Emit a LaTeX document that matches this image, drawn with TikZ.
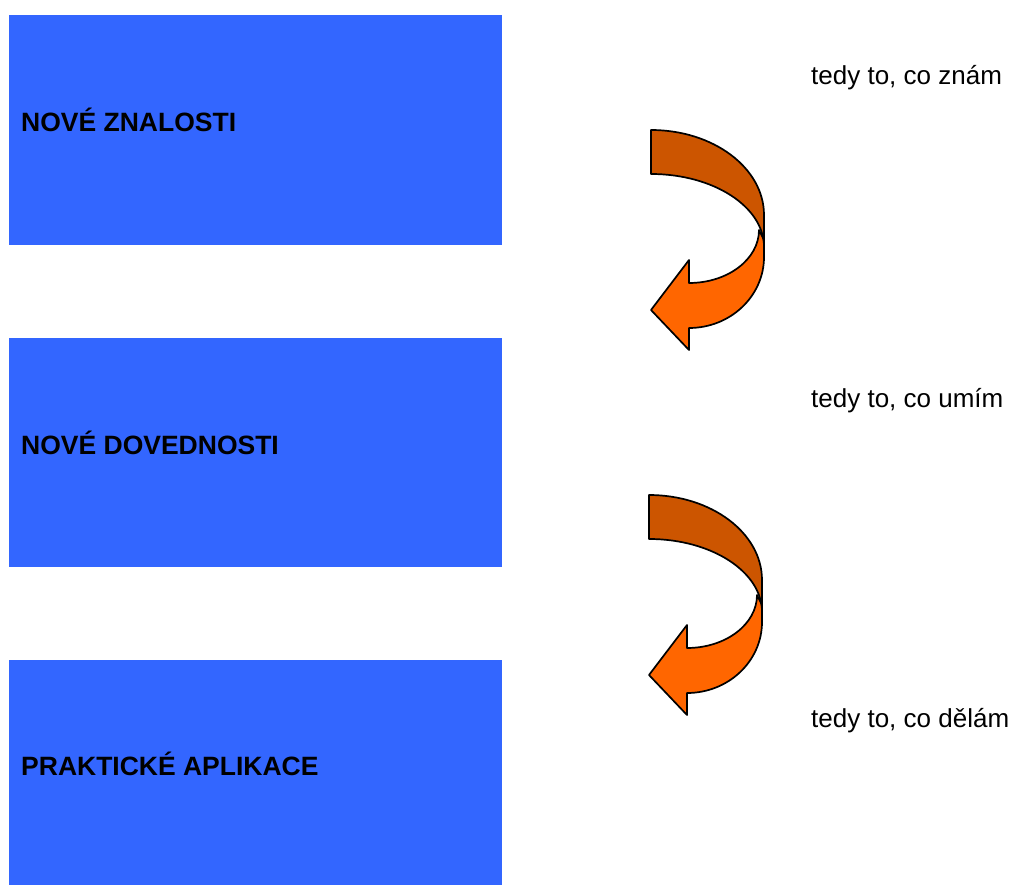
\documentclass[tikz,border=0pt]{standalone}
\usepackage{fontspec}
\setmainfont{Liberation Sans}
\definecolor{boxblue}{HTML}{3366FF}
\definecolor{bandback}{HTML}{CC5500}
\definecolor{bandfront}{HTML}{FF6600}
\begin{document}
\begin{tikzpicture}[x=1pt, y=-1pt,
  box/.style={fill=boxblue, draw=none, anchor=north west, inner sep=0pt,
              minimum width=493pt},
  heading/.style={anchor=base west, inner sep=0pt,
                  font=\fontsize{26.5}{31}\selectfont\bfseries},
  note/.style={anchor=base west, inner sep=0pt,
               font=\fontsize{26}{31}\selectfont},
  bandedge/.style={draw=black, line width=1.7pt, line join=round},
  turnarrow/.pic={
    % lower band with the arrow head (drawn first, passes behind)
    \path[bandedge, fill=bandfront]
      (759,230) -- (764,240) -- (764,257)
      arc[start angle=0, end angle=90, x radius=75, y radius=71]
      -- (689,350) -- (651,310) -- (689,260) -- (689,283)
      arc[start angle=90, end angle=0, x radius=70, y radius=53]
      -- cycle;
    % upper band, on top
    \path[bandedge, fill=bandback]
      (651,130)
      arc[start angle=-90, end angle=0, x radius=113, y radius=85]
      -- (764,247)
      arc[start angle=0, end angle=-90, x radius=113, y radius=73]
      -- cycle;
  }]
\useasboundingbox (0,0) rectangle (1018,885);

% blocks
\node[box, minimum height=230pt] (b1) at (9,15) {};
\node[box, minimum height=229pt] (b2) at (9,338) {};
\node[box, minimum height=225pt] (b3) at (9,660) {};

\node[heading] (t1) at (21,132) {NOVÉ ZNALOSTI};
\node[heading] (t2) at (21,454) {NOVÉ DOVEDNOSTI};
\node[heading] (t3) at (21,775) {PRAKTICKÉ APLIKACE};

% side notes
\node[note] (n1) at (811,85) {tedy to, co znám};
\node[note] (n2) at (811,407) {tedy to, co umím};
\node[note] (n3) at (811,727) {tedy to, co dělám};

% turning arrows
\pic (a1) at (0,0) {turnarrow};
\pic (a2) at (-2,365) {turnarrow};
\end{tikzpicture}
\end{document}
